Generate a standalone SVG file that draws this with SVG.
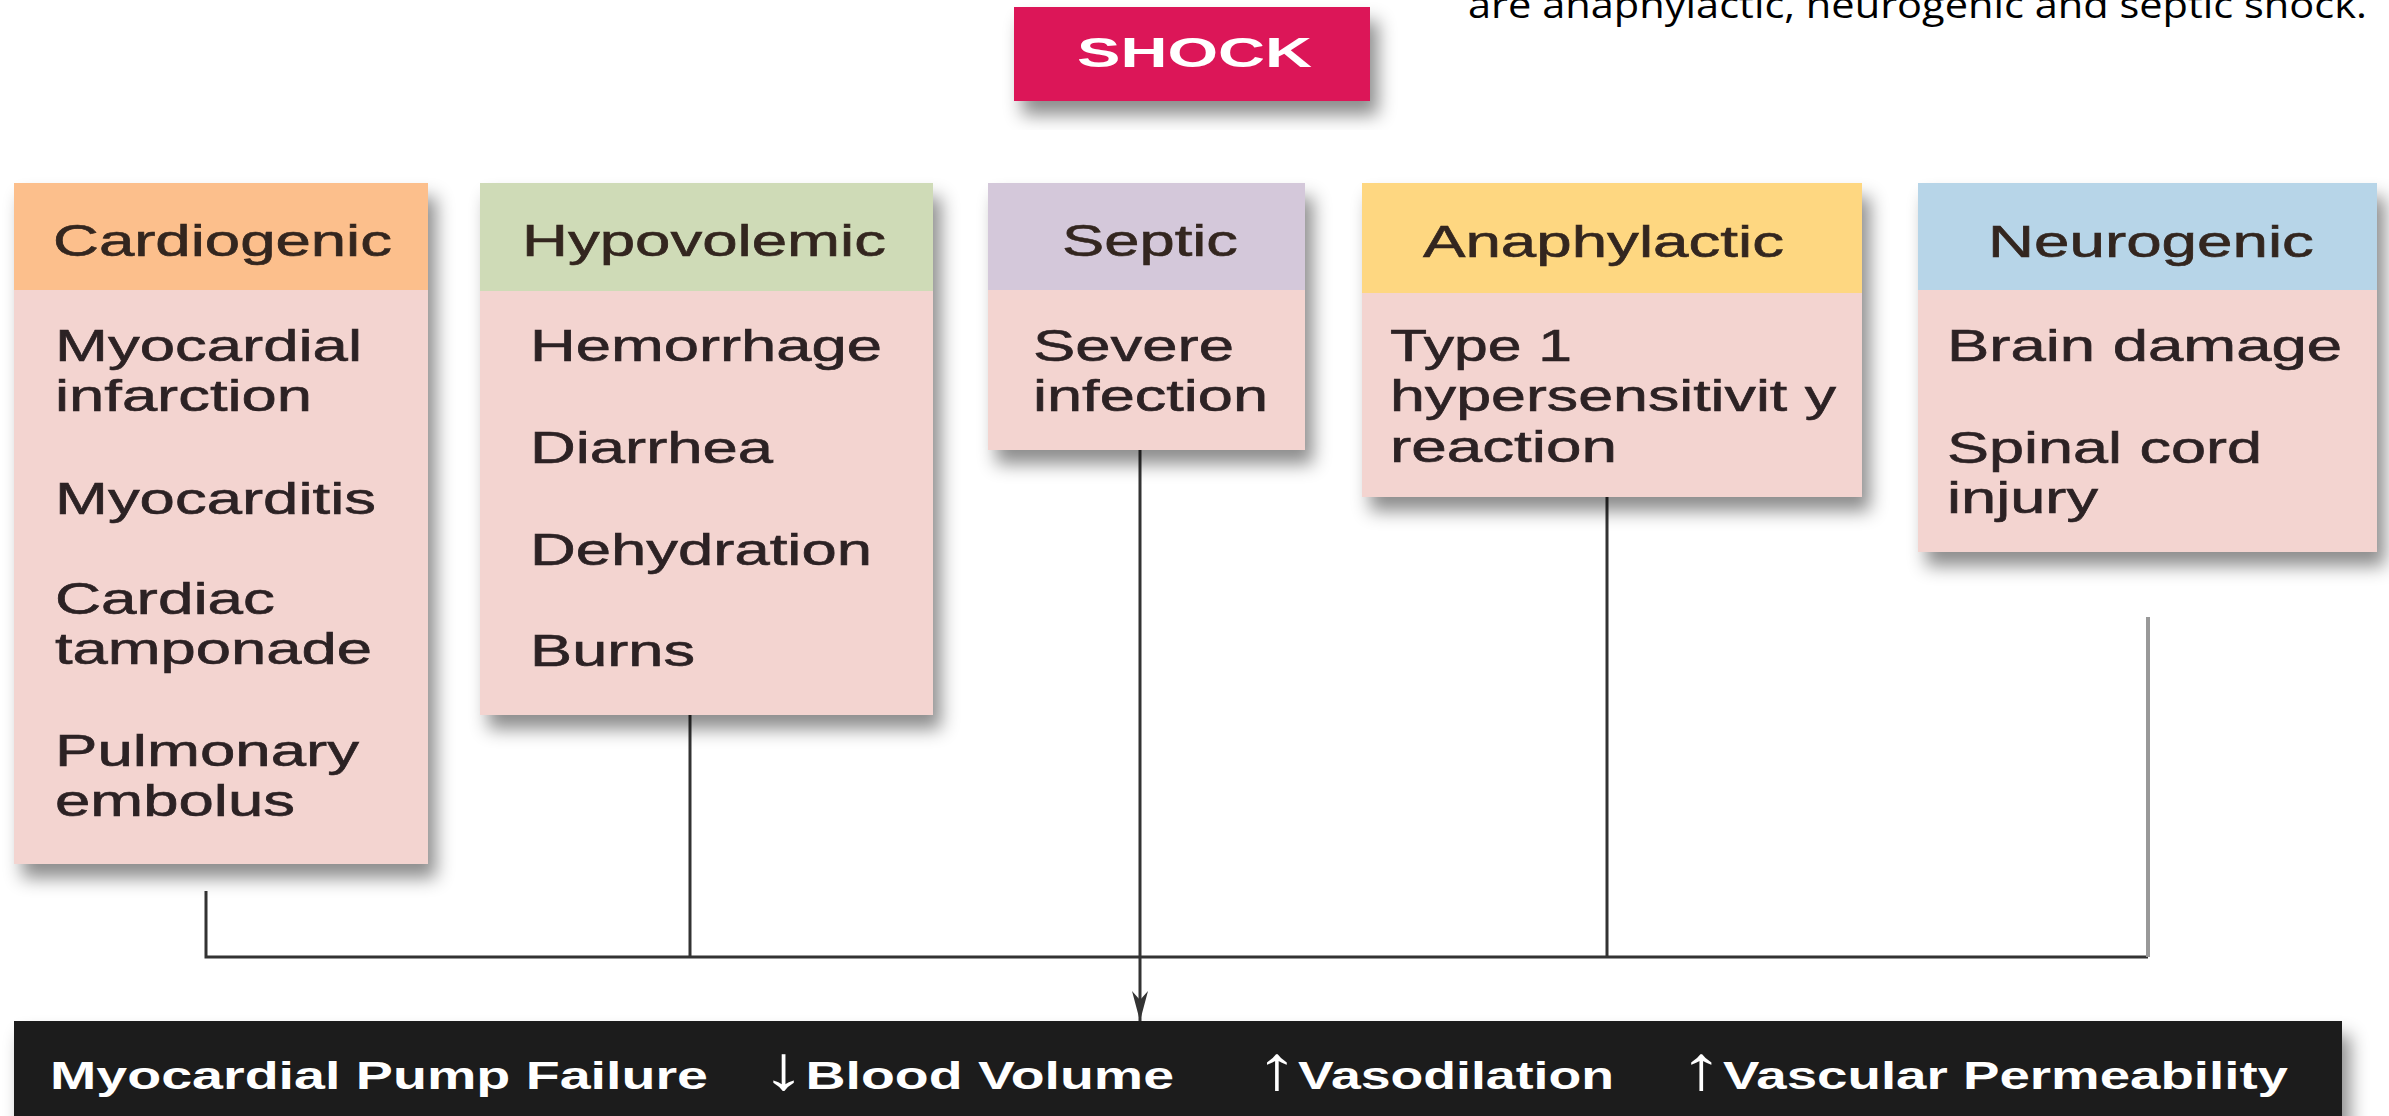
<svg xmlns="http://www.w3.org/2000/svg" width="2389" height="1116" viewBox="0 0 2389 1116">
<defs>
<filter id="sh" x="-10%" y="-10%" width="130%" height="140%">
<feDropShadow dx="8" dy="14" stdDeviation="9" flood-color="#000" flood-opacity="0.45"/>
</filter>
<marker id="ah" viewBox="0 0 30 16" refX="30" refY="8" markerWidth="30" markerHeight="16" markerUnits="userSpaceOnUse" orient="auto">
<path d="M0,0 L30,8 L0,16 L9,8 z" fill="#333"/>
</marker>
<style>
.body{fill:#f3d4d0}
.hd{font-family:"Liberation Sans",Arial,sans-serif;font-size:45px;fill:#33261f;stroke:#33261f;stroke-width:0.6}
.tx{font-family:"Liberation Sans",Arial,sans-serif;font-size:45px;fill:#2c2224;stroke:#2c2224;stroke-width:0.6}
.bar{font-family:"Liberation Sans",Arial,sans-serif;font-size:39.5px;font-weight:bold;fill:#fff}
.arr{font-weight:normal;font-size:62px}
.cn{fill:none;stroke:#333;stroke-width:3}
</style>
</defs>
<rect width="2389" height="1116" fill="#fff"/>

<text x="1468" y="18" font-family="'Open Sans',sans-serif" font-size="36" fill="#000" textLength="899" lengthAdjust="spacingAndGlyphs">are anaphylactic, neurogenic and septic shock.</text>

<g id="shock">
<rect x="1014" y="7" width="356" height="94" fill="#dc1358" filter="url(#sh)"/>
<text x="1077" y="67" font-family="'Liberation Sans',Arial,sans-serif" font-size="42" font-weight="bold" fill="#fff" textLength="235" lengthAdjust="spacingAndGlyphs">SHOCK</text>
</g>

<g id="connectors">
<path class="cn" d="M206,891 V957 H2148"/>
<path class="cn" d="M690,715 V957"/>
<path class="cn" d="M1607,497 V957"/>
<path d="M2148,617 V957" fill="none" stroke="#999" stroke-width="4"/>
<path class="cn" d="M1140,450 V1021" marker-end="url(#ah)"/>
</g>

<g id="cardiogenic">
<rect class="body" x="14" y="183" width="414" height="681" filter="url(#sh)"/>
<rect x="14" y="183" width="414" height="107" fill="#fcbf8c"/>
<text class="hd" x="53" y="256" textLength="339" lengthAdjust="spacingAndGlyphs">Cardiogenic</text>
<text class="tx" x="55" y="361" textLength="307" lengthAdjust="spacingAndGlyphs">Myocardial</text>
<text class="tx" x="55" y="411" textLength="257" lengthAdjust="spacingAndGlyphs">infarction</text>
<text class="tx" x="55" y="514" textLength="321" lengthAdjust="spacingAndGlyphs">Myocarditis</text>
<text class="tx" x="55" y="614" textLength="220" lengthAdjust="spacingAndGlyphs">Cardiac</text>
<text class="tx" x="55" y="664" textLength="317" lengthAdjust="spacingAndGlyphs">tamponade</text>
<text class="tx" x="55" y="766" textLength="304" lengthAdjust="spacingAndGlyphs">Pulmonary</text>
<text class="tx" x="55" y="816" textLength="240" lengthAdjust="spacingAndGlyphs">embolus</text>
</g>

<g id="hypovolemic">
<rect class="body" x="480" y="183" width="453" height="532" filter="url(#sh)"/>
<rect x="480" y="183" width="453" height="108" fill="#cfdbb7"/>
<text class="hd" x="522" y="256" textLength="364" lengthAdjust="spacingAndGlyphs">Hypovolemic</text>
<text class="tx" x="530" y="361" textLength="352" lengthAdjust="spacingAndGlyphs">Hemorrhage</text>
<text class="tx" x="530" y="463" textLength="243" lengthAdjust="spacingAndGlyphs">Diarrhea</text>
<text class="tx" x="530" y="565" textLength="342" lengthAdjust="spacingAndGlyphs">Dehydration</text>
<text class="tx" x="530" y="666" textLength="165" lengthAdjust="spacingAndGlyphs">Burns</text>
</g>

<g id="septic">
<rect class="body" x="988" y="183" width="317" height="267" filter="url(#sh)"/>
<rect x="988" y="183" width="317" height="107" fill="#d4c8da"/>
<text class="hd" x="1062" y="256" textLength="176" lengthAdjust="spacingAndGlyphs">Septic</text>
<text class="tx" x="1033" y="361" textLength="201" lengthAdjust="spacingAndGlyphs">Severe</text>
<text class="tx" x="1033" y="411" textLength="235" lengthAdjust="spacingAndGlyphs">infection</text>
</g>

<g id="anaphylactic">
<rect class="body" x="1362" y="183" width="500" height="314" filter="url(#sh)"/>
<rect x="1362" y="183" width="500" height="110" fill="#fed781"/>
<text class="hd" x="1423" y="257" textLength="361" lengthAdjust="spacingAndGlyphs">Anaphylactic</text>
<text class="tx" x="1390" y="361" textLength="182" lengthAdjust="spacingAndGlyphs">Type 1</text>
<text class="tx" x="1390" y="411" textLength="446" lengthAdjust="spacingAndGlyphs">hypersensitivit y</text>
<text class="tx" x="1390" y="462" textLength="227" lengthAdjust="spacingAndGlyphs">reaction</text>
</g>

<g id="neurogenic">
<rect class="body" x="1918" y="183" width="459" height="369" filter="url(#sh)"/>
<rect x="1918" y="183" width="459" height="107" fill="#b7d5e8"/>
<text class="hd" x="1988" y="257" textLength="326" lengthAdjust="spacingAndGlyphs">Neurogenic</text>
<text class="tx" x="1947" y="361" textLength="395" lengthAdjust="spacingAndGlyphs">Brain damage</text>
<text class="tx" x="1947" y="463" textLength="315" lengthAdjust="spacingAndGlyphs">Spinal cord</text>
<text class="tx" x="1947" y="513" textLength="151" lengthAdjust="spacingAndGlyphs">injury</text>
</g>

<g id="outcomes">
<rect x="14" y="1021" width="2328" height="110" fill="#1f1a1b" filter="url(#sh)"/>
<text class="bar" x="50" y="1089" textLength="658" lengthAdjust="spacingAndGlyphs">Myocardial Pump Failure</text>
<text class="bar" x="762" y="1089" textLength="412" lengthAdjust="spacingAndGlyphs"><tspan class="arr">↓</tspan>Blood Volume</text>
<text class="bar" x="1256" y="1089" textLength="358" lengthAdjust="spacingAndGlyphs"><tspan class="arr">↑</tspan>Vasodilation</text>
<text class="bar" x="1680" y="1089" textLength="608" lengthAdjust="spacingAndGlyphs"><tspan class="arr">↑</tspan>Vascular Permeability</text>
</g>
</svg>
